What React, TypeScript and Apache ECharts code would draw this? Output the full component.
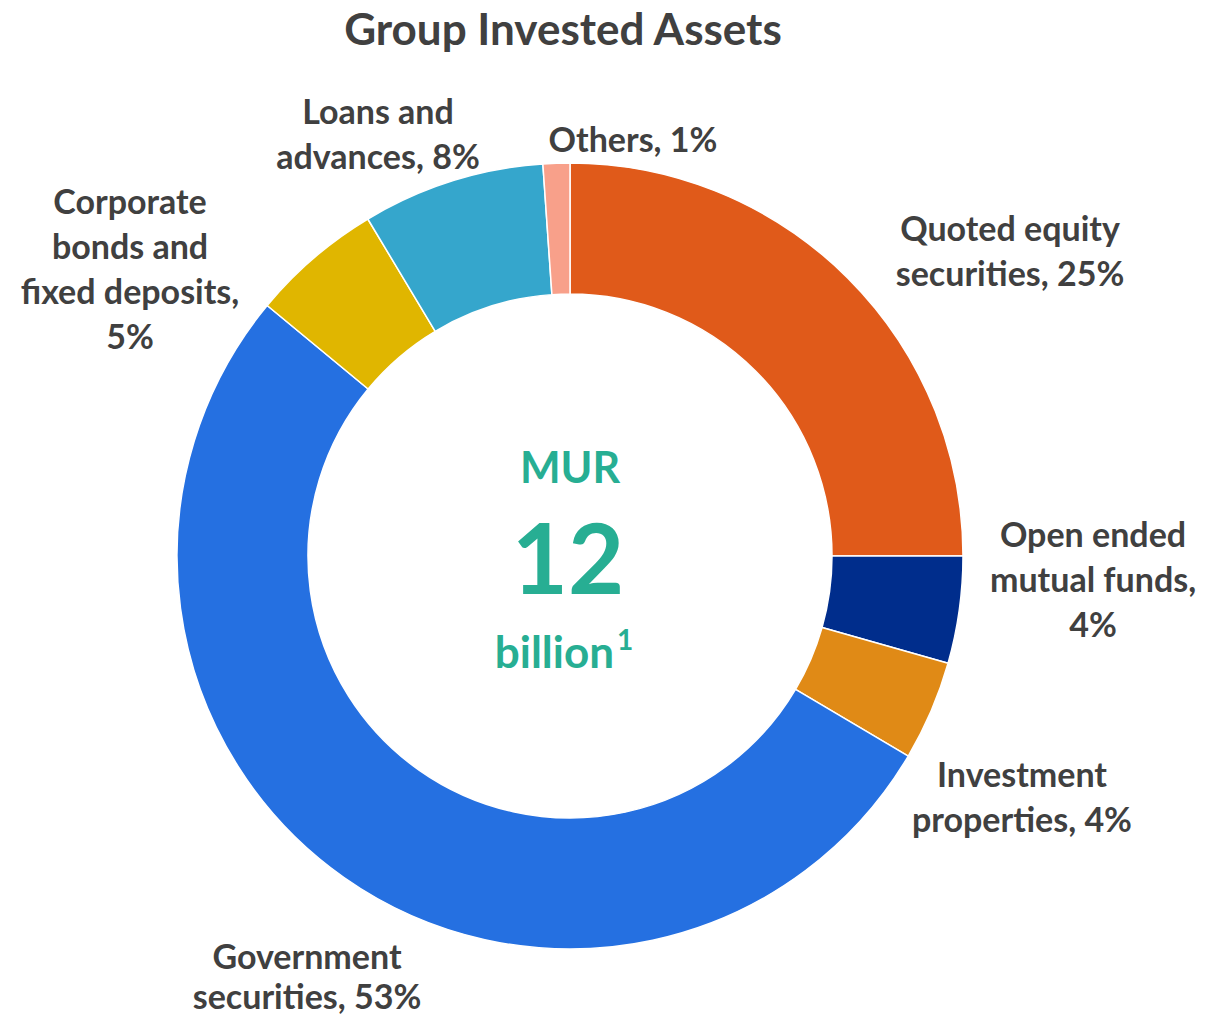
import React, { useEffect, useRef } from "react";
import * as echarts from "echarts";

const categories = [
  "Quoted equity securities",
  "Open ended mutual funds",
  "Investment properties",
  "Government securities",
  "Corporate bonds and fixed deposits",
  "Loans and advances",
  "Others",
];
// share of group invested assets, %
const values = [25, 4.4, 4.1, 52.5, 5.4, 7.5, 1.1];
// how each label wraps (Excel-style)
const labelLines = [
  ["Quoted equity", "securities,"],
  ["Open ended", "mutual funds,", ""],
  ["Investment", "properties,"],
  ["Government", "securities,"],
  ["Corporate", "bonds and", "fixed deposits,", ""],
  ["Loans and", "advances,"],
  ["Others,"],
];
const colors = ["#E05A1A", "#002D8C", "#E08A16", "#2570E1", "#E0B600", "#35A6CC", "#F8A08A"];

const centerLines = ["MUR", "12", "billion", "1"];
const title = "Group Invested Assets";

// label anchor positions (label centres), px, and line heights
const labelPos: [number, number][] = [
  [1010, 250],
  [1093, 578],
  [1022, 796],
  [307, 975],
  [130, 268],
  [378, 133],
  [633, 138],
];
const labelLineHeights = [45, 45, 45, 40, 45, 45, 45];

export default function App() {
  const ref = useRef<HTMLDivElement>(null);
  useEffect(() => {
    if (!ref.current) return;
    const chart = echarts.init(ref.current, null, { renderer: "svg" });
    const total = values.reduce((a, b) => a + b, 0);
    const cx = 570;
    const cy = 556;
    const teal = "#27AE93";
    chart.setOption({
      animation: false,
      backgroundColor: "#ffffff",
      title: {
        text: title,
        left: 558,
        top: 1,
        textAlign: "center",
        textStyle: { fontFamily: "Lato", fontWeight: "bold", fontSize: 44, color: "#404040" },
      },
      series: [
        {
          type: "pie",
          center: [cx, cy],
          radius: [262, 393],
          startAngle: 90,
          clockwise: true,
          avoidLabelOverlap: false,
          itemStyle: { borderColor: "#ffffff", borderWidth: 1.5 },
          label: {
            show: true,
            position: "outside",
            fontFamily: "Lato",
            fontWeight: "bold",
            fontSize: 34,
            lineHeight: 45,
            color: "#404040",
            formatter: (p: any) => {
              const pct = Math.round((values[p.dataIndex] / total) * 100) + "%";
              const lines = labelLines[p.dataIndex].slice();
              const last = lines.length - 1;
              if (lines[last] === "") lines[last] = pct;
              else lines[last] = lines[last] + " " + pct;
              return lines.join("\n");
            },
          },
          labelLine: { show: false },
          labelLayout: (params: any) => {
            const pos = labelPos[params.dataIndex];
            return { x: pos[0], y: pos[1], align: "center", verticalAlign: "middle" };
          },
          emphasis: { disabled: true },
          data: categories.map((name, i) => ({
            name,
            value: values[i],
            itemStyle: { color: colors[i] },
            label: { lineHeight: labelLineHeights[i] },
          })),
        },
      ],
      graphic: [
        {
          type: "text",
          x: cx,
          y: 466,
          style: {
            text: centerLines[0],
            fill: teal,
            font: "bold 43px Lato",
            textAlign: "center",
            textVerticalAlign: "middle",
          },
        },
        {
          type: "text",
          x: 568,
          y: 556,
          style: {
            text: centerLines[1],
            fill: teal,
            font: "bold 97px Lato",
            textAlign: "center",
            textVerticalAlign: "middle",
          },
        },
        {
          type: "text",
          x: 564,
          y: 648,
          style: {
            text: "{b|" + centerLines[2] + "}{s|" + centerLines[3] + "}",
            textAlign: "center",
            textVerticalAlign: "middle",
            rich: {
              b: { fill: teal, font: "bold 44px Lato", verticalAlign: "bottom", lineHeight: 50 },
              s: { fill: teal, font: "bold 28px Lato", verticalAlign: "top", lineHeight: 50, padding: [2, 0, 0, 3] },
            },
          },
        },
      ],
    });
    return () => chart.dispose();
  }, []);
  return (
    <div
      ref={ref}
      style={{ position: "fixed", left: 0, top: 0, width: 1209, height: 1017, background: "#fff" }}
    />
  );
}
